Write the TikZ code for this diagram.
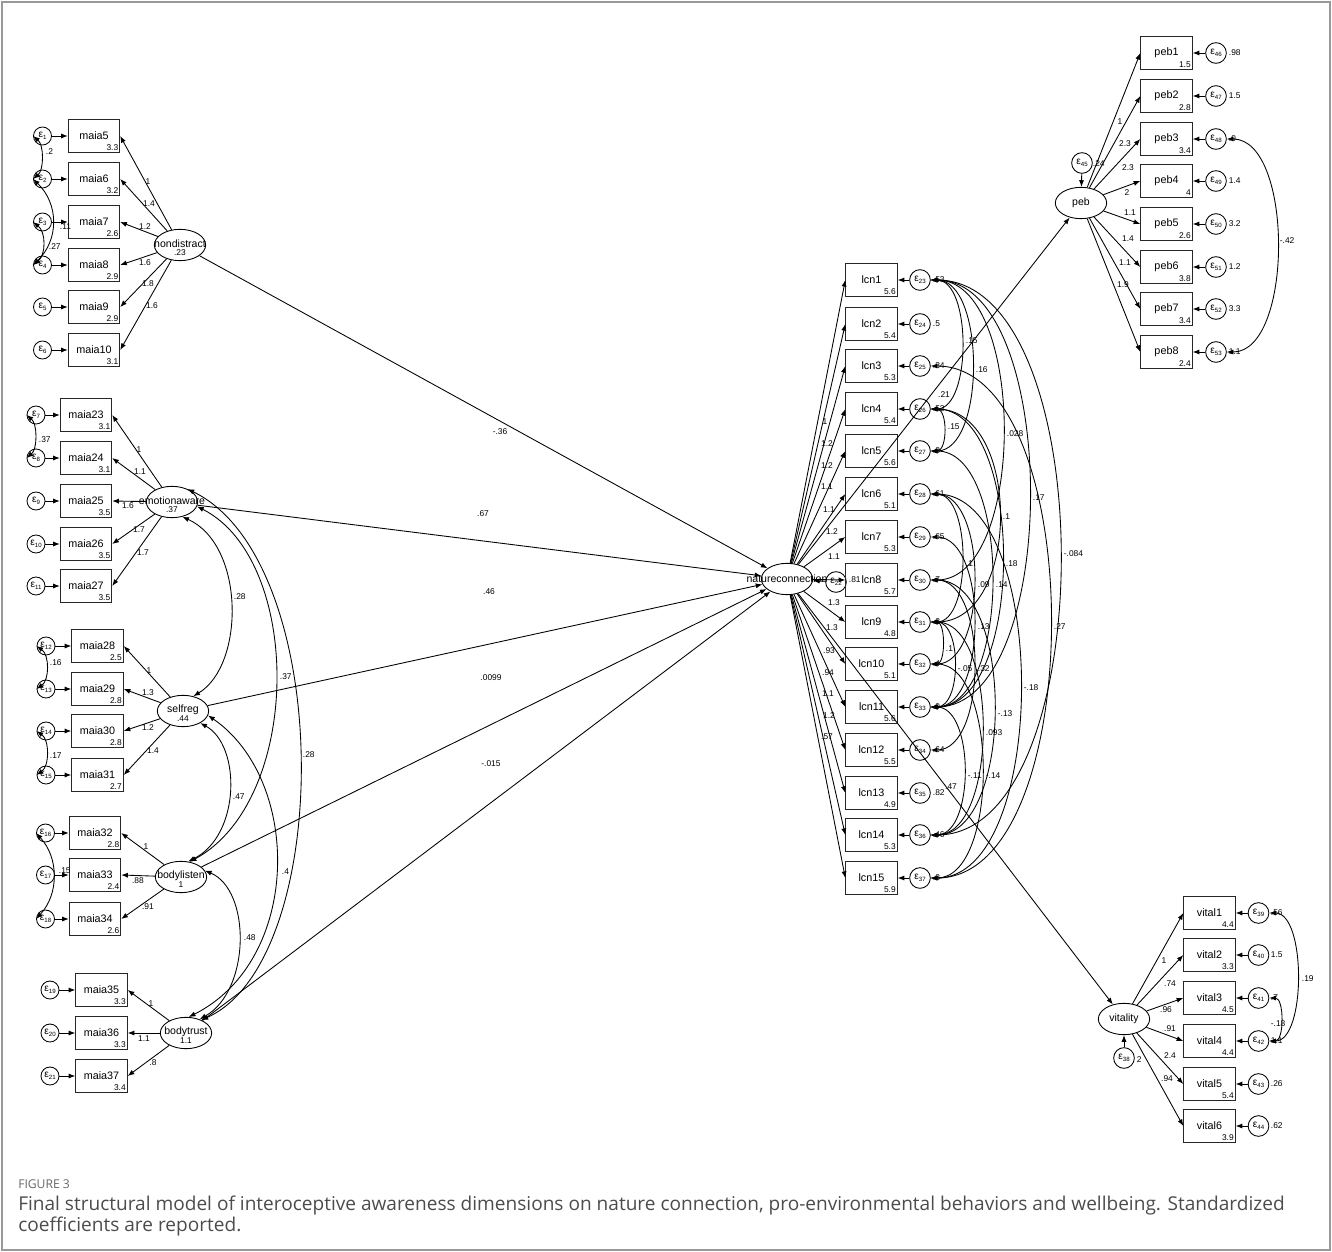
\documentclass[tikz,border=0pt]{standalone}
\usepackage{fontspec}
\setmainfont{Liberation Sans}
\newfontfamily\capfont{Open Sans}
\usetikzlibrary{arrows.meta,shapes.geometric}
\newcommand\ee[1]{ε\raisebox{-0.45ex}{\fontsize{4.6}{5}\selectfont #1}}
\begin{document}
\begin{tikzpicture}[x=0.75pt,y=-0.75pt,
 obs/.style={draw=black!85, rectangle, minimum width=38.5pt, minimum height=24.5pt, inner sep=0pt, line width=0.8pt, font=\fontsize{8.1}{9}\selectfont},
 ov/.style={obs, label={[val,anchor=south east]south east:#1}},
 lat/.style={draw, ellipse, minimum width=38.5pt, minimum height=23.5pt, inner sep=0pt, line width=0.65pt},
 lname/.style={font=\fontsize{7.9}{9}\selectfont, inner sep=0pt},
 val/.style={font=\fontsize{6.3}{7}\selectfont, inner sep=1.3pt},
 lbl/.style={font=\fontsize{6.3}{7}\selectfont, inner sep=0.5pt},
 errL/.style={draw, circle, minimum size=13.5pt, inner sep=0pt, line width=0.65pt, font=\fontsize{7.6}{8}\selectfont},
 errR/.style={errL, minimum size=15.5pt},
 arr/.style={-{Latex[length=5pt,width=3.8pt]}, line width=0.65pt},
 darr/.style={{Latex[length=5pt,width=3.8pt]}-{Latex[length=5pt,width=3.8pt]}, line width=0.65pt},
 frame/.style={draw=black!40, line width=1.3pt}
]
\useasboundingbox (0,0) rectangle (1332,1252);
\draw[frame] (2,2) rectangle (1330,1250);

% ---------- latent variables ----------
\node[lat] (nd) at (180,245) {};
\node[lname] (ndn) at ([yshift=1pt]nd.center) {nondistract};
\node[val] (ndv) at ([yshift=-5.8pt]nd.center) {.23};
\node[lat] (ea) at (172,502) {};
\node[lname] (ean) at ([yshift=1pt]ea.center) {emotionaware};
\node[val] (eav) at ([yshift=-5.8pt]ea.center) {.37};
\node[lat] (sr) at (183,711) {};
\node[lname] (srn) at ([yshift=1pt]sr.center) {selfreg};
\node[val] (srv) at ([yshift=-5.8pt]sr.center) {.44};
\node[lat] (bl) at (181,877) {};
\node[lname] (bln) at ([yshift=1pt]bl.center) {bodylisten};
\node[val] (blv) at ([yshift=-5.8pt]bl.center) {1};
\node[lat] (bt) at (186,1033) {};
\node[lname] (btn) at ([yshift=1pt]bt.center) {bodytrust};
\node[val] (btv) at ([yshift=-5.8pt]bt.center) {1.1};
\node[lat] (nc) at (787,579) {};
\node[lname] (ncn) at (nc.center) {natureconnection};
\node[lat] (peb) at (1081,203) {};
\node[lname] (pebn) at (peb.center) {peb};
\node[lat] (vit) at (1124,1019) {};
\node[lname] (vitn) at (vit.center) {vitality};

% ---------- nondistract ----------
\foreach \n/\y/\v/\e in {5/136/3.3/1,6/179/3.2/2,7/222/2.6/3,8/265/2.9/4,9/307/2.9/5,10/350/3.1/6}{
  \node[ov=\v] (maia\n) at (94,\y) {maia\n};
  \node[errL] (e\e) at (42.5,\y) {\ee{\e}};
  \draw[arr] (e\e) -- (maia\n);
  \draw[arr] (nd) -- (maia\n.east);
}
\foreach \t/\x/\y [count=\i] in {1/148/182,1.4/149/204,1.2/145/227,1.6/145/263,1.8/148/284,1.6/152/306}
  \node[lbl] (ndl\i) at (\x,\y) {\t};
\draw[darr] (e1.west) .. controls +(11,9) and +(11,-9) .. (e2.west);
\draw[darr] (e2.west) .. controls +(26,25) and +(26,-25) .. (e4.west);
\draw[darr] (e3.west) .. controls +(13,10) and +(13,-10) .. (e4.west);
\node[lbl,anchor=west] (c12) at (45,152) {.2};
\node[lbl,anchor=west] (c24) at (59,227) {.11};
\node[lbl,anchor=west] (c34) at (48,247) {.27};

% ---------- emotionaware ----------
\foreach \n/\y/\v/\e in {23/415/3.1/7,24/458/3.1/8,25/501/3.5/9,26/544/3.5/10,27/586/3.5/11}{
  \node[ov=\v] (maia\n) at (86,\y) {maia\n};
  \node[errL] (e\e) at (36,\y) {\ee{\e}};
  \draw[arr] (e\e) -- (maia\n);
  \draw[arr] (ea) -- (maia\n.east);
}
\foreach \t/\x/\y [count=\i] in {1/139/450,1.1/140/472,1.6/128/506,1.7/139/530,1.7/143/553}
  \node[lbl] (eal\i) at (\x,\y) {\t};
\draw[darr] (e7.west) .. controls +(11,9) and +(11,-9) .. (e8.west);
\node[lbl,anchor=west] (c78) at (38,440) {.37};

% ---------- selfreg ----------
\foreach \n/\y/\v/\e in {28/646/2.5/12,29/689/2.8/13,30/731/2.8/14,31/775/2.7/15}{
  \node[ov=\v] (maia\n) at (97.5,\y) {maia\n};
  \node[errL] (e\e) at (46,\y) {\ee{\e}};
  \draw[arr] (e\e) -- (maia\n);
  \draw[arr] (sr) -- (maia\n.east);
}
\foreach \t/\x/\y [count=\i] in {1/149/671,1.3/148/693,1.2/148/728,1.4/153/751}
  \node[lbl] (srl\i) at (\x,\y) {\t};
\draw[darr] (e12.west) .. controls +(13,9) and +(13,-9) .. (e13.west);
\draw[darr] (e14.west) .. controls +(13,9) and +(13,-9) .. (e15.west);
\node[lbl,anchor=west] (c1213) at (49,663) {.16};
\node[lbl,anchor=west] (c1415) at (49,756) {.17};

% ---------- bodylisten ----------
\foreach \n/\y/\v/\e in {32/833/2.8/16,33/875/2.4/17,34/919/2.6/18}{
  \node[ov=\v] (maia\n) at (95,\y) {maia\n};
  \node[errL] (e\e) at (45.5,\y) {\ee{\e}};
  \draw[arr] (e\e) -- (maia\n);
  \draw[arr] (bl) -- (maia\n.east);
}
\foreach \t/\x/\y [count=\i] in {1/146/847,.88/138/881,.91/148/907}
  \node[lbl] (bll\i) at (\x,\y) {\t};
\draw[darr] (e16.west) .. controls +(23,25) and +(23,-25) .. (e18.west);
\node[lbl,anchor=west] (c1618) at (58,871) {.15};

% ---------- bodytrust ----------
\foreach \n/\y/\v/\e in {35/990/3.3/19,36/1033/3.3/20,37/1076/3.4/21}{
  \node[ov=\v] (maia\n) at (101.5,\y) {maia\n};
  \node[errL] (e\e) at (50,\y) {\ee{\e}};
  \draw[arr] (e\e) -- (maia\n);
  \draw[arr] (bt) -- (maia\n.east);
}
\foreach \t/\x/\y [count=\i] in {1/151/1004,1.1/144/1039,.8/153/1063}
  \node[lbl] (btl\i) at (\x,\y) {\t};

% ---------- latent covariances ----------
\draw[darr] (ea.-55) .. controls (245,545) and (245,665) .. (sr.55);
\draw[darr] (ea.-10) .. controls (303,560) and (303,800) .. (bl.60);
\draw[darr] (ea.40) .. controls (335,560) and (335,960) .. (bt.40);
\draw[darr] (sr.-35) .. controls (241,745) and (241,835) .. (bl.65);
\draw[darr] (sr.-10) .. controls (302,780) and (302,960) .. (bt.80);
\draw[darr] (bl.15) .. controls (251,890) and (251,990) .. (bt.45);
\node[lbl,anchor=west] (cov1) at (233,597) {.28};
\node[lbl,anchor=west] (cov2) at (279,677) {.37};
\node[lbl,anchor=west] (cov3) at (302,755) {.28};
\node[lbl,anchor=west] (cov4) at (232,797) {.47};
\node[lbl,anchor=west] (cov5) at (281,872) {.4};
\node[lbl,anchor=west] (cov6) at (243,938) {.48};

% ---------- structural paths ----------
\draw[arr] (nd) -- (nc);
\draw[arr] (ea) -- (nc);
\draw[arr] (sr) -- (nc);
\draw[arr] (bl) -- (nc);
\draw[arr] (bt) -- (nc);
\node[lbl] (p1) at (500,432) {-.36};
\node[lbl] (p2) at (483,514) {.67};
\node[lbl] (p3) at (489,592) {.46};
\node[lbl] (p4) at (491,678) {.0099};
\node[lbl] (p5) at (491,764) {-.015};

% ---------- nature connection ----------
\node[errR] (e22) at (836,582) {\ee{22}};
\draw[arr] (e22) -- (nc);
\foreach \k/\y/\v/\e/\r in {1/280/5.6/23/.53,2/324/5.4/24/.5,3/366/5.3/25/.34,4/409/5.4/26/.53,5/451/5.6/27/.8,6/494/5.1/28/.61,7/537/5.3/29/.65,8/580/5.7/30/.7,9/622/4.8/31/.3,10/664/5.1/32/.4,11/707/5.6/33/.9,12/750/5.5/34/.64,13/793/4.9/35/.82,14/835/5.3/36/.46,15/878/5.9/37/.8}{
  \node[ov=\v] (lcn\k) at (871.5,\y) {lcn\k};
  \node[errR] (e\e) at (920,\y) {\ee{\e}};
  \node[lbl,anchor=west] (r\e) at (932,\y) {\r};
  \draw[arr] (e\e) -- (lcn\k);
  \draw[arr] (nc) -- (lcn\k.west);
}
\node[lbl,anchor=west] (r22) at (848,580) {.81};
\foreach \t/\x/\y [count=\i] in {1/825/422,1.2/827/444,1.2/827/466,1.1/827/487,1.1/829/510,1.2/832/532,1.1/834/557,1.3/834/603,1.3/832/628,.93/829/651,.94/828/673,1.1/828/694,1.2/829/716,.57/827/737}
  \node[lbl] (ncl\i) at (\x,\y) {\t};
\foreach \a/\b/\t/\lx/\ly/\d [count=\i] in {23/26/.15/965/341/41,23/27/.16/975/370/55,26/27/.15/947/427/17,23/30/.028/1006/434/96,23/33/.17/1032/498/131,26/31/.1/1002/517/91,23/36/-.084/1063/554/172,28/31/.1/965/564/41,26/33/.18/1005/564/95,28/32/.09/977/585/57,27/33/.14/995/585/81,29/33/.13/977/627/57,25/37/.27/1053/627/159,31/32/.1/945/649/15,31/33/-.05/957/669/31,30/34/.32/977/669/57,28/37/-.18/1023/688/119,30/36/-.13/997/714/84,31/36/.093/985/733/68,33/36/-.11/967/776/44,32/37/-.14/985/776/68}{
  \draw[darr] (e\a.east) .. controls +(\d,0) and +(\d,0) .. (e\b.east);
  \node[lbl,anchor=west] (cv\i) at (\lx,\ly) {\t};
}

% ---------- peb ----------
\node[errR] (e45) at (1082,163) {\ee{45}};
\node[lbl,anchor=west] (r45) at (1092,164) {.24};
\draw[arr] (e45) -- (peb);
\draw[arr] (nc) -- (peb);
\node[lbl] (p6) at (944,395) {.21};
\foreach \k/\y/\v/\e/\r in {1/53/1.5/46/.98,2/96/2.8/47/1.5,3/139/3.4/48/.9,4/181/4/49/1.4,5/224/2.6/50/3.2,6/267/3.8/51/1.2,7/309/3.4/52/3.3,8/352/2.4/53/1.1}{
  \node[ov=\v] (peb\k) at (1166.5,\y) {peb\k};
  \node[errR] (e\e) at (1216,\y) {\ee{\e}};
  \node[lbl,anchor=west] (r\e) at (1228,\y) {\r};
  \draw[arr] (e\e) -- (peb\k);
  \draw[arr] (peb) -- (peb\k.west);
}
\foreach \t/\x/\y [count=\i] in {1/1120/122,2.3/1125/144,2.3/1128/168,2/1127/193,1.1/1130/213,1.4/1128/239,1.1/1125/263,1.9/1123/285}
  \node[lbl] (pbl\i) at (\x,\y) {\t};
\draw[darr] (e48.east) .. controls +(67,0) and +(67,0) .. (e53.east);
\node[lbl,anchor=west] (c4853) at (1279,241) {-.42};

% ---------- vitality ----------
\node[errR] (e38) at (1124,1058) {\ee{38}};
\node[lbl,anchor=west] (r38) at (1136,1060) {2};
\draw[arr] (e38) -- (vit);
\draw[arr] (nc) -- (vit);
\node[lbl] (p7) at (951,787) {.47};
\foreach \k/\y/\v/\e/\r in {1/913/4.4/39/.56,2/955/3.3/40/1.5,3/998/4.5/41/.7,4/1041/4.4/42/1.1,5/1084/5.4/43/.26,6/1126/3.9/44/.62}{
  \node[ov=\v] (vital\k) at (1209.5,\y) {vital\k};
  \node[errR] (e\e) at (1258.5,\y) {\ee{\e}};
  \node[lbl,anchor=west] (r\e) at (1270,\y) {\r};
  \draw[arr] (e\e) -- (vital\k);
  \draw[arr] (vit) -- (vital\k.west);
}
\foreach \t/\x/\y [count=\i] in {1/1164/961,.74/1170/984,.96/1166/1010,.91/1170/1029,2.4/1170/1056,.94/1167/1079}
  \node[lbl] (vtl\i) at (\x,\y) {\t};
\draw[darr] (e39.east) .. controls +(37,0) and +(37,0) .. (e42.east);
\draw[darr] (e41.east) .. controls +(15,0) and +(15,0) .. (e42.east);
\node[lbl,anchor=west] (c3942) at (1301,979) {.19};
\node[lbl,anchor=west] (c4142) at (1270,1024) {-.18};

% ---------- caption ----------
\node[anchor=west, inner sep=0pt, text=black!60, font=\capfont\fontsize{9.1}{11}\selectfont] (fig) at (18,1184) {FIGURE 3};
\node[anchor=west, inner sep=0pt, text=black!70, font=\capfont\fontsize{14.3}{17}\selectfont] (cap1) at (18,1205) {Final structural model of interoceptive awareness dimensions on nature connection, pro-environmental behaviors and wellbeing. Standardized};
\node[anchor=west, inner sep=0pt, text=black!70, font=\capfont\fontsize{14.3}{17}\selectfont] (cap2) at (18,1226) {coefficients are reported.};
\end{tikzpicture}
\end{document}
